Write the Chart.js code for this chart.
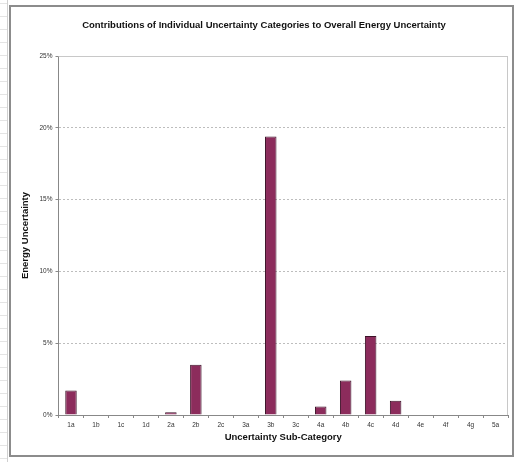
<!DOCTYPE html>
<html>
<head>
<meta charset="utf-8">
<script src="https://cdn.jsdelivr.net/npm/chart.js@4/dist/chart.umd.min.js"></script>
<style>
  html, body { margin: 0; padding: 0; background: #ffffff; }
  #wrap { width: 518px; height: 462px; position: relative; }
</style>
</head>
<body>
<div id="wrap"><canvas id="c" width="518" height="462"></canvas></div>
<script>
// Uncertainty sub-categories along the x axis
const categories = ['1a','1b','1c','1d','2a','2b','2c','3a','3b','3c','4a','4b','4c','4d','4e','4f','4g','5a'];
// Share of overall energy uncertainty per sub-category (fraction)
const contribution = [0.017, 0, 0, 0, 0.002, 0.035, 0, 0, 0.194, 0, 0.006, 0.024, 0.055, 0.010, 0, 0, 0, 0];
// Y axis ticks
const yTicks = [0, 0.05, 0.10, 0.15, 0.20, 0.25];

const FONT = 'Liberation Sans, Arial, sans-serif';

// Sheet-style frame around the chart object and the plot-area border
const framePlugin = {
  id: 'frame',
  beforeDraw(chart) {
    const ctx = chart.ctx;
    ctx.save();
    ctx.fillStyle = '#ffffff';
    ctx.fillRect(0, 0, chart.width, chart.height);
    // faint spreadsheet rows at the left edge
    ctx.strokeStyle = '#e4e4e4';
    ctx.lineWidth = 1;
    for (let y = 3; y < chart.height; y += 13) {
      ctx.beginPath(); ctx.moveTo(0, y + 0.5); ctx.lineTo(7, y + 0.5); ctx.stroke();
    }
    ctx.strokeStyle = '#d0d0d0';
    ctx.beginPath(); ctx.moveTo(7.5, 0); ctx.lineTo(7.5, chart.height); ctx.stroke();
    // chart object border
    ctx.strokeStyle = '#8c8c8c';
    ctx.lineWidth = 2;
    ctx.strokeRect(10, 6, 503, 450);
    ctx.restore();
  },
  afterDatasetsDraw(chart) {
    const a = chart.chartArea;
    const ctx = chart.ctx;
    ctx.save();
    ctx.strokeStyle = '#c8c8c8';
    ctx.lineWidth = 1;
    ctx.beginPath();
    ctx.moveTo(a.left, a.top + 0.5);
    ctx.lineTo(a.right - 0.5, a.top + 0.5);
    ctx.lineTo(a.right - 0.5, a.bottom);
    ctx.stroke();
    ctx.restore();
  }
};

new Chart(document.getElementById('c'), {
  type: 'bar',
  data: {
    labels: categories,
    datasets: [{
      data: contribution,
      backgroundColor: '#8c2c5c',
      borderColor: '#3c1228',
      borderWidth: 1,
      barPercentage: 0.46,
      categoryPercentage: 1.0
    }]
  },
  options: {
    responsive: false,
    animation: false,
    devicePixelRatio: 1,
    layout: { padding: { top: 3.6, left: 20, right: 10, bottom: 19 } },
    plugins: {
      legend: { display: false },
      tooltip: { enabled: false },
      title: {
        display: true,
        text: 'Contributions of Individual Uncertainty Categories to Overall Energy Uncertainty',
        color: '#111',
        font: { family: FONT, size: 9.5, weight: 'bold' },
        padding: { top: 16, bottom: 25 }
      }
    },
    scales: {
      x: {
        offset: true,
        afterFit(s) { s.height = 28; },
        grid: { display: true, drawOnChartArea: false, offset: true, tickLength: 3, color: '#888' },
        border: { color: '#888', width: 1 },
        ticks: { color: '#333', font: { family: FONT, size: 6.5 }, padding: 3, maxRotation: 0, autoSkip: false },
        title: {
          display: true,
          text: 'Uncertainty Sub-Category',
          color: '#111',
          font: { family: FONT, size: 9.5, weight: 'bold' },
          padding: { top: 1, bottom: 0 }
        }
      },
      y: {
        min: 0,
        max: 0.25,
        afterFit(s) { s.width = 38.5; },
        afterBuildTicks(s) { s.ticks = yTicks.map(v => ({ value: v })); },
        grid: { color: '#bdbdbd', tickLength: 3, tickColor: '#888' },
        border: { color: '#888', width: 1, dash: [2, 2] },
        ticks: {
          color: '#333',
          font: { family: FONT, size: 6.5 },
          padding: 3,
          callback: v => Math.round(v * 100) + '%'
        },
        title: {
          display: true,
          text: 'Energy Uncertainty',
          color: '#111',
          font: { family: FONT, size: 9.5, weight: 'bold' },
          padding: { top: 0, bottom: 4 }
        }
      }
    }
  },
  plugins: [framePlugin]
});
</script>
</body>
</html>
